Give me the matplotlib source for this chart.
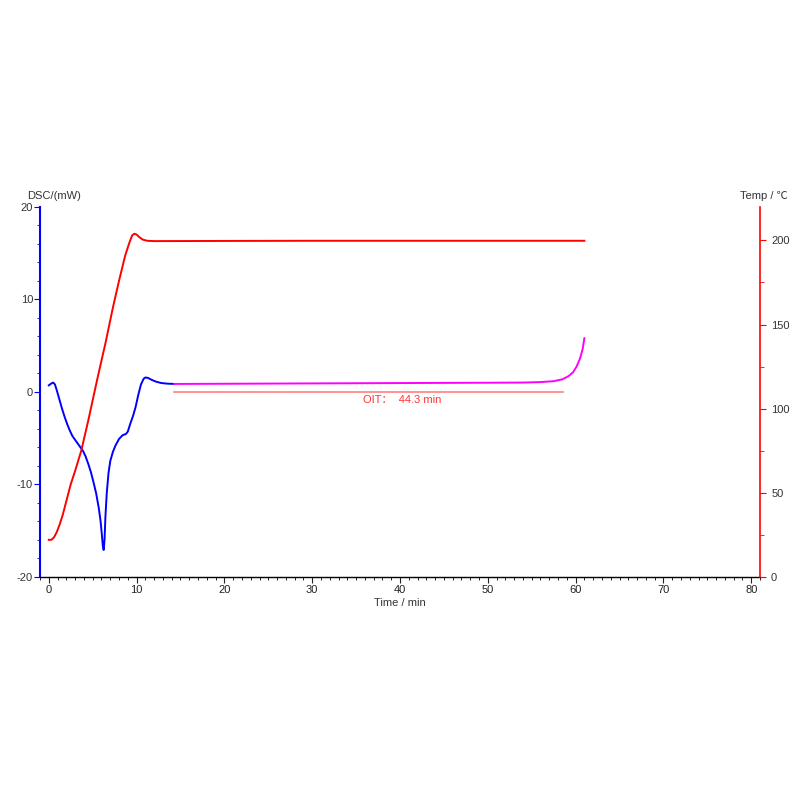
import numpy as np
import matplotlib.pyplot as plt
from matplotlib.ticker import MultipleLocator

plt.rcParams['font.family'] = ['Liberation Sans', 'Noto Sans CJK SC', 'DejaVu Sans']
plt.rcParams['axes.unicode_minus'] = False

# DSC signal, first part (blue)
dsc_t = [0.0, 0.3, 0.5, 0.7, 0.9, 1.2, 1.5, 1.8, 2.1, 2.4, 2.7, 3.0, 3.3, 3.6, 3.9,
         4.2, 4.5, 4.8, 5.1, 5.4, 5.7, 5.9, 6.05, 6.15, 6.25, 6.35, 6.45, 6.6, 6.8,
         7.0, 7.3, 7.6, 8.0, 8.4, 8.8, 9.0, 9.3, 9.6, 9.9, 10.2, 10.5, 10.8, 11.0,
         11.3, 11.7, 12.2, 12.8, 13.5, 14.3]
dsc_v = [0.7, 0.9, 1.0, 0.8, 0.2, -0.8, -1.8, -2.7, -3.5, -4.2, -4.8, -5.2, -5.6,
         -6.0, -6.4, -7.0, -7.8, -8.7, -9.8, -11.0, -12.6, -14.0, -15.5, -16.6, -17.1,
         -16.0, -13.5, -11.0, -8.8, -7.5, -6.5, -5.8, -5.1, -4.7, -4.55, -4.3, -3.4,
         -2.6, -1.6, -0.3, 0.8, 1.4, 1.55, 1.5, 1.3, 1.1, 0.95, 0.88, 0.85]

# DSC signal, oxidation part (magenta)
oit_t = [14.3, 20.0, 28.0, 36.0, 44.0, 50.0, 54.0, 56.0, 57.5, 58.5, 59.2, 59.7, 60.1,
         60.5, 60.8, 61.0]
oit_v = [0.85, 0.87, 0.9, 0.93, 0.96, 0.98, 1.0, 1.05, 1.15, 1.35, 1.7, 2.1, 2.7,
         3.6, 4.6, 5.8]

# Temperature program (red)
temp_t = [0.0, 0.3, 0.6, 0.9, 1.2, 1.6, 2.0, 2.5, 3.0, 3.7, 4.5, 5.5, 6.5, 7.3, 8.0,
          8.7, 9.2, 9.5, 9.75, 10.0, 10.3, 10.7, 11.2, 12.0, 20.0, 30.0, 40.0, 50.0, 61.0]
temp_v = [22.0, 22.0, 23.5, 26.5, 30.5, 37.0, 45.0, 55.0, 63.0, 75.0, 93.0, 117.0,
          140.0, 160.0, 176.0, 191.0, 199.0, 203.0, 204.0, 203.5, 202.0, 200.5, 199.8,
          199.6, 199.7, 199.8, 199.8, 199.8, 199.8]

oit_start, oit_end = 14.3, 58.6
oit_label = 'OIT：  44.3 min'

fig = plt.figure(figsize=(8, 8), dpi=100)
ax = fig.add_axes([0.05, 0.279, 0.90, 0.4625])
ax2 = ax.twinx()

ax.plot(dsc_t, dsc_v, color='#0000ff', lw=1.4)
ax.plot(oit_t, oit_v, color='#ff00ff', lw=1.4)
ax2.plot(temp_t, temp_v, color='#ff0000', lw=1.4)

ax.plot([oit_start, oit_end], [0, 0], color='#ff8080', lw=1.2)
ax.text(40.2, -0.3, oit_label, color='#ff3333', fontsize=8, ha='center', va='top')

ax.set_xlim(-1, 81)
ax.set_ylim(-20, 20)
ax2.set_ylim(0, 220)

ax.xaxis.set_major_locator(MultipleLocator(10))
ax.xaxis.set_minor_locator(MultipleLocator(1))
ax.yaxis.set_major_locator(MultipleLocator(10))
ax.yaxis.set_minor_locator(MultipleLocator(2))
ax2.yaxis.set_major_locator(MultipleLocator(50))
ax2.yaxis.set_minor_locator(MultipleLocator(25))

for a in (ax, ax2):
    a.spines['top'].set_visible(False)
ax.spines['left'].set_color('#0000ff')
ax.spines['left'].set_linewidth(1.5)
ax.spines['right'].set_visible(False)
ax2.spines['left'].set_visible(False)
ax2.spines['bottom'].set_visible(False)
ax2.spines['right'].set_color('#ff0000')
ax2.spines['right'].set_linewidth(1.2)
ax.spines['bottom'].set_linewidth(1.0)

ax.tick_params(axis='x', which='major', length=4, labelsize=8, colors='#222222', pad=2)
ax.tick_params(axis='x', which='minor', length=2)
ax.tick_params(axis='y', which='major', length=4, labelsize=8, colors='#0000ff',
               labelcolor='#333333', pad=1)
ax.tick_params(axis='y', which='minor', length=2, colors='#0000ff')
ax2.tick_params(axis='y', which='major', length=4, labelsize=8, colors='#ff0000',
                labelcolor='#333333', pad=4)
ax2.tick_params(axis='y', which='minor', length=3, colors='#ff0000')

fig.text(0.034, 0.755, 'DSC/(mW)', fontsize=8, color='#333333', ha='left', va='center')
fig.text(0.925, 0.755, 'Temp / ℃', fontsize=8, color='#333333', ha='left', va='center')
ax.set_xlabel('Time / min', fontsize=8, color='#333333', labelpad=2)

fig.savefig('out.png', dpi=100)
plt.close(fig)
